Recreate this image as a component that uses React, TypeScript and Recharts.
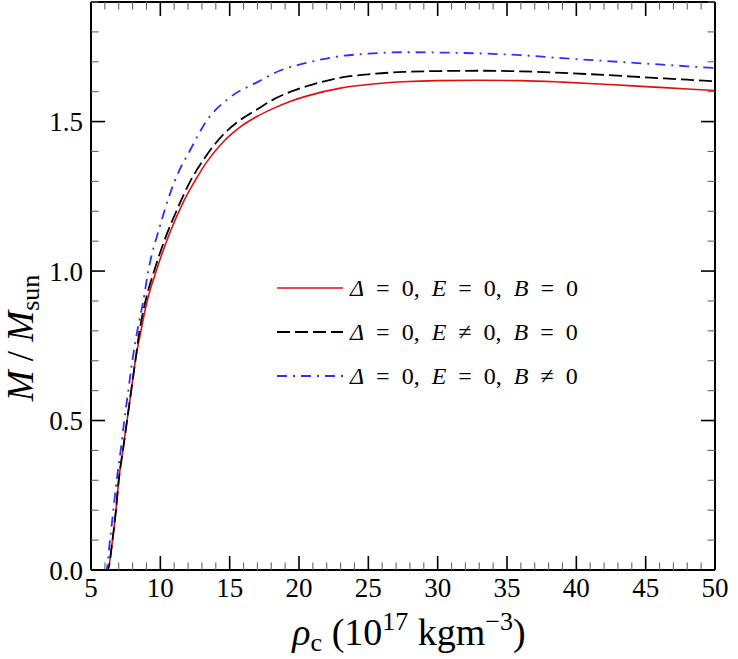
import React from 'react';
import { LineChart, Line, XAxis, YAxis, Legend } from 'recharts';

// central density (10^17 kg m^-3) vs mass (M / Msun)
const redRho = [5.8, 6.2, 6.55, 6.8, 7.0, 7.3, 7.6, 7.9, 8.2, 8.6, 9.05, 9.7, 10.7, 11.7, 12.5, 13.3, 14.5, 15.0, 15.7, 17.0, 18.2, 19.4, 20.6, 23.0, 25.0, 27.5, 30.0, 33.0, 36.0, 39.0, 42.0, 45.0, 48.0, 50.0];
const redMass = [0, 0, 0.1, 0.2, 0.3, 0.4, 0.5, 0.6, 0.7, 0.8, 0.9, 1.0, 1.13, 1.235, 1.302, 1.362, 1.43, 1.453, 1.48, 1.518, 1.545, 1.568, 1.586, 1.612, 1.624, 1.633, 1.637, 1.638, 1.637, 1.632, 1.625, 1.617, 1.609, 1.604];

const blackRho = [5.8, 6.2, 6.55, 6.8, 7.0, 7.3, 7.6, 7.9, 8.2, 8.5, 8.93, 9.55, 10.4, 11.2, 12.1, 13.3, 14.5, 15.7, 17.0, 18.2, 19.4, 20.6, 23.0, 25.0, 27.5, 30.0, 33.0, 36.0, 39.0, 42.0, 45.0, 48.0, 50.0];
const blackMass = [0, 0, 0.1, 0.2, 0.3, 0.4, 0.5, 0.6, 0.7, 0.8, 0.9, 1.0, 1.115, 1.205, 1.295, 1.385, 1.455, 1.503, 1.541, 1.575, 1.6, 1.619, 1.647, 1.658, 1.666, 1.669, 1.67, 1.668, 1.663, 1.656, 1.648, 1.64, 1.635];

const blueRho = [5.8, 6.1, 6.37, 6.61, 6.85, 7.14, 7.4, 7.69, 7.98, 8.34, 8.77, 9.13, 9.97, 10.6, 11.3, 12.1, 13.3, 15.0, 17.0, 18.6, 20.6, 23.0, 25.0, 27.5, 30.0, 33.0, 36.0, 39.0, 42.0, 45.0, 48.0, 50.0];
const blueMass = [0, 0, 0.1, 0.2, 0.3, 0.4, 0.5, 0.6, 0.7, 0.8, 0.9, 1.0, 1.15, 1.245, 1.33, 1.4, 1.5, 1.58, 1.632, 1.67, 1.697, 1.719, 1.727, 1.732, 1.731, 1.728, 1.722, 1.712, 1.703, 1.694, 1.685, 1.679];

const xTicks = Array.from({ length: 46 }, (_, i) => 5 + i);
const yTicks = Array.from({ length: 20 }, (_, i) => i / 10);

const zip = (xs: number[], ys: number[]) => xs.map((rho, i) => ({ rho, m: ys[i] }));

const series = [
  { name: 'red', data: zip(redRho, redMass), color: '#e01010', width: 1.6, dash: undefined, label: 'Δ = 0, E = 0, B = 0' },
  { name: 'black', data: zip(blackRho, blackMass), color: '#000000', width: 1.8, dash: '13 5', label: 'Δ = 0, E ≠ 0, B = 0' },
  { name: 'blue', data: zip(blueRho, blueMass), color: '#2f2fff', width: 1.8, dash: '10 6 2 6', label: 'Δ = 0, E = 0, B ≠ 0' },
];

const FONT = "'Liberation Serif', 'DejaVu Serif', serif";
const MAJOR = 14;
const MINOR = 7.5;

const isMajorX = (v: number) => v % 5 === 0;
const isMajorY = (v: number) => Math.round(v * 10) % 5 === 0;

const BottomTick = ({ x, y, payload }: any) => {
  const major = isMajorX(payload.value);
  return (
    <g>
      <line x1={x} x2={x} y1={y} y2={y - (major ? MAJOR : MINOR)} stroke={major ? '#000' : '#666'} strokeWidth={major ? 1.6 : 1.1} />
      {major && (
        <text x={x} y={y + 27} textAnchor="middle" fontFamily={FONT} fontSize={27} fill="#000">
          {payload.value}
        </text>
      )}
    </g>
  );
};

const TopTick = ({ x, y, payload }: any) => {
  const major = isMajorX(payload.value);
  return <line x1={x} x2={x} y1={y} y2={y + (major ? MAJOR : MINOR)} stroke={major ? '#000' : '#666'} strokeWidth={major ? 1.6 : 1.1} />;
};

const LeftTick = ({ x, y, payload }: any) => {
  const major = isMajorY(payload.value);
  return (
    <g>
      <line x1={x} x2={x + (major ? MAJOR : MINOR)} y1={y} y2={y} stroke={major ? '#000' : '#666'} strokeWidth={major ? 1.6 : 1.1} />
      {major && (
        <text x={x - 8} y={y} dy="0.36em" textAnchor="end" fontFamily={FONT} fontSize={27} fill="#000">
          {payload.value.toFixed(1)}
        </text>
      )}
    </g>
  );
};

const RightTick = ({ x, y, payload }: any) => {
  const major = isMajorY(payload.value);
  return <line x1={x} x2={x - (major ? MAJOR : MINOR)} y1={y} y2={y} stroke={major ? '#000' : '#666'} strokeWidth={major ? 1.6 : 1.1} />;
};

// italicise the math symbols in a legend label
const mathText = (s: string) =>
  s.split('').map((ch, i) =>
    'ΔEB'.includes(ch) ? <i key={i}>{ch}</i> : <span key={i}>{ch}</span>
  );

const renderLegend = () => (
  <div style={{ fontFamily: FONT, fontSize: 24, color: '#000' }}>
    {series.map((s) => (
      <div key={s.name} style={{ display: 'flex', alignItems: 'center', height: 44 }}>
        <svg width={66} height={10} style={{ marginRight: 7 }}>
          <line x1={0} x2={66} y1={5} y2={5} stroke={s.color} strokeWidth={s.width} strokeDasharray={s.dash} />
        </svg>
        <span style={{ whiteSpace: 'pre', wordSpacing: 6 }}>{mathText(s.label)}</span>
      </div>
    ))}
  </div>
);

const axisLine = { stroke: '#000', strokeWidth: 2 };

export default function App() {
  return (
    <div style={{ position: 'absolute', left: 0, top: 0, width: 738, height: 659, background: '#fff' }}>
      <LineChart width={738} height={659} margin={{ top: 1, right: 22, bottom: 0, left: 0 }}>
        <XAxis xAxisId="b" dataKey="rho" type="number" domain={[5, 50]} ticks={xTicks} interval={0} height={89}
          tickLine={false} tickSize={0} tickMargin={0} tick={(p: any) => <BottomTick {...p} />} axisLine={axisLine} allowDataOverflow />
        <XAxis xAxisId="t" orientation="top" dataKey="rho" type="number" domain={[5, 50]} ticks={xTicks} interval={0} height={1}
          tickLine={false} tickSize={0} tickMargin={0} tick={(p: any) => <TopTick {...p} />} axisLine={axisLine} allowDataOverflow />
        <YAxis yAxisId="l" type="number" domain={[0, 1.9]} ticks={yTicks} interval={0} width={91}
          tickLine={false} tickSize={0} tickMargin={0} tick={(p: any) => <LeftTick {...p} />} axisLine={axisLine} allowDataOverflow />
        <YAxis yAxisId="r" orientation="right" type="number" domain={[0, 1.9]} ticks={yTicks} interval={0} width={1}
          tickLine={false} tickSize={0} tickMargin={0} tick={(p: any) => <RightTick {...p} />} axisLine={axisLine} allowDataOverflow />
        <Legend layout="vertical" align="center" verticalAlign="middle" content={renderLegend}
          wrapperStyle={{ left: 277, top: 266, width: 340 }} />
        {/* invisible series so the top and right frame axes get drawn */}
        <Line xAxisId="t" yAxisId="r" data={series[0].data} dataKey="m" stroke="none" dot={false} activeDot={false}
          isAnimationActive={false} legendType="none" />
        {series.map((s) => (
          <Line key={s.name} xAxisId="b" yAxisId="l" data={s.data} dataKey="m" type="monotone" stroke={s.color}
            strokeWidth={s.width} strokeDasharray={s.dash} dot={false} activeDot={false} isAnimationActive={false} legendType="none" />
        ))}
      </LineChart>
      <svg width={738} height={659} style={{ position: 'absolute', left: 0, top: 0, pointerEvents: 'none' }}>
        <text x={409} y={645} textAnchor="middle" fontFamily={FONT} fontSize={38} fill="#000">
          <tspan fontStyle="italic">ρ</tspan>
          <tspan fontSize={26} dy={6}>c</tspan>
          <tspan dy={-6}> (10</tspan>
          <tspan fontSize={26} dy={-15}>17</tspan>
          <tspan dy={15}> kgm</tspan>
          <tspan fontSize={26} dy={-15}>−3</tspan>
          <tspan dy={15}>)</tspan>
        </text>
        <text transform="translate(33,338) rotate(-90)" textAnchor="middle" fontFamily={FONT} fontSize={37} fill="#000">
          <tspan fontStyle="italic">M</tspan>
          <tspan> / </tspan>
          <tspan fontStyle="italic">M</tspan>
          <tspan fontSize={26} dy={6}>sun</tspan>
        </text>
      </svg>
    </div>
  );
}
